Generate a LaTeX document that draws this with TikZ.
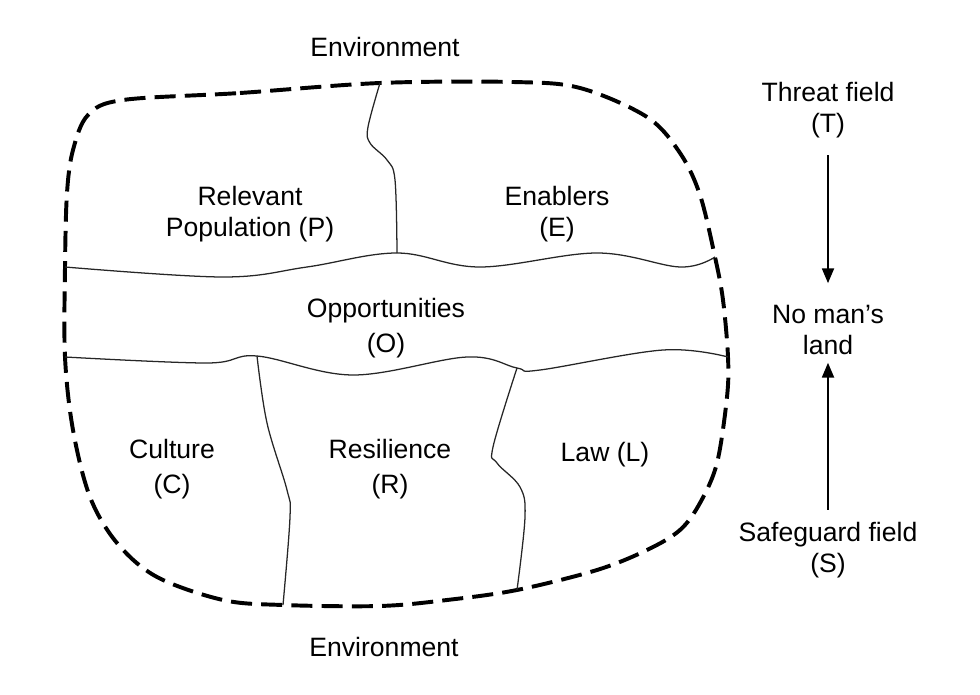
\documentclass[tikz,border=0pt]{standalone}
\usepackage{fontspec}
\setmainfont{Liberation Sans}
\usetikzlibrary{arrows.meta}

\begin{document}
\begin{tikzpicture}[x=0.025cm, y=-0.025cm, >={Triangle[length=10.5pt, width=8.5pt]},
  every node/.style={align=center, inner sep=2pt, font=\fontsize{18.9}{22}\selectfont},
  rim/.style={line width=2.8pt, dash pattern=on 15pt off 6.5pt},
  seam/.style={line width=0.9pt, black!85},
  flow/.style={->, line width=1.4pt}]

  \useasboundingbox (0,0) rectangle (980,695);

  % Junctions
  \coordinate (wl1) at (65,267);
  \coordinate (wr1) at (715,257);
  \coordinate (wl2) at (65,357);
  \coordinate (wr2) at (728,357);
  \coordinate (jtop) at (397,253);
  \coordinate (rtop) at (380,83);
  \coordinate (jc) at (257,356);
  \coordinate (rc) at (283,605);
  \coordinate (jl) at (517,368);
  \coordinate (rl) at (517,590);

  % Dashed rim
  \draw[rim] plot[smooth cycle, tension=0.55] coordinates {
    (123,100) (240,93) (rtop) (513,82) (580,88) (647,117) (680,153) (700,195)
    (wr1) (723,300) (wr2) (727,397) (717,463) (700,503) (680,530) (647,550)
    (597,570) (rl) (447,600) (380,606) (rc) (223,600) (157,577) (117,543)
    (90,497) (73,430) (wl2) (wl1) (67,193) (73,150) (88,115)};

  % Seams
  \draw[seam] plot[smooth, tension=0.6] coordinates {
    (wl1) (223,277) (307,267) (jtop) (480,267) (597,253) (680,267) (wr1)};
  \draw[seam] plot[smooth, tension=0.6] coordinates {
    (wl2) (207,363) (jc) (353,375) (467,357) (jl) (540,370) (663,350) (wr2)};
  \draw[seam] plot[smooth, tension=0.6] coordinates {
    (jtop) (395,180) (387,160) (370,143) (368,127) (rtop)};
  \draw[seam] plot[smooth, tension=0.6] coordinates {
    (jc) (267,423) (287,490) (290,517) (rc)};
  \draw[seam] plot[smooth, tension=0.6] coordinates {
    (jl) (493,447) (497,463) (520,487) (525,517) (rl)};

  % Nodes
  \node (envT) at (385,47) {Environment};
  \node (envB) at (384,647) {Environment};
  \node (P) at (250,214) {Relevant\\Population (P)};
  \node (E) at (557,214) {Enablers\\(E)};
  \node (O) at (386,328) {Opportunities\\[2.8pt](O)};
  \node (C) at (172,469) {Culture\\[2.8pt](C)};
  \node (R) at (390,469) {Resilience\\[2.8pt](R)};
  \node (L) at (605,455) {Law (L)};
  \node (T) at (828,110) {Threat field\\(T)};
  \node (N) at (828,330) {No man’s\\land};
  \node (S) at (828,550) {Safeguard field\\(S)};

  % Edges
  \draw[flow, shorten <=10pt, shorten >=13.5pt] (T) -- (N);
  \draw[flow, shorten <=6.5pt, shorten >=3.5pt] (S) -- (N);

\end{tikzpicture}
\end{document}
